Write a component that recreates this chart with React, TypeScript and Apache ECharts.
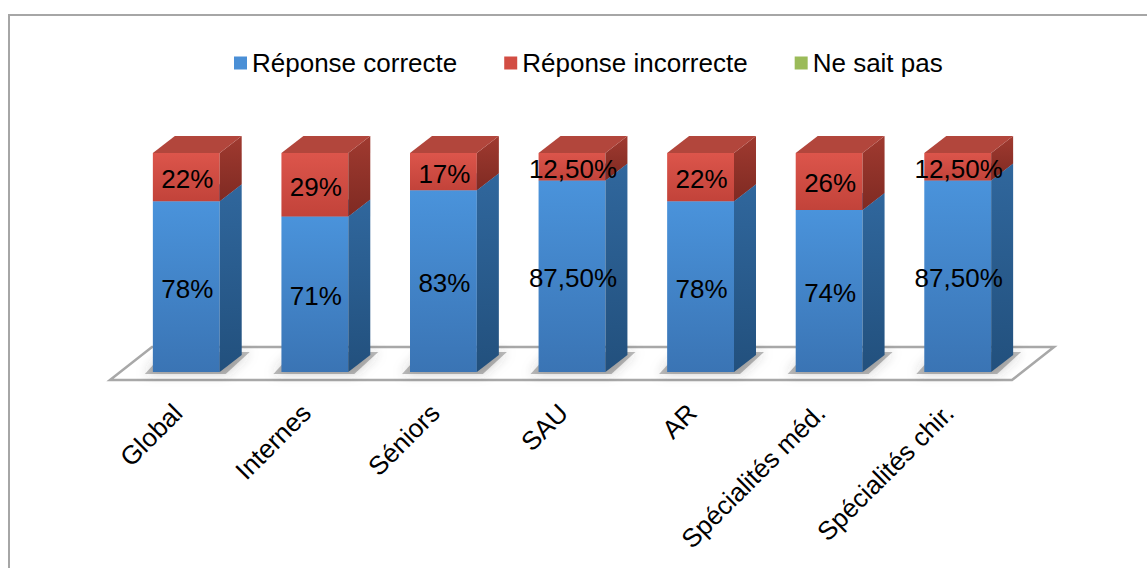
import React, { useEffect, useRef } from "react";
import * as echarts from "echarts";

const categories = ["Global", "Internes", "Séniors", "SAU", "AR", "Spécialités méd.", "Spécialités chir."];
const correct = [78, 71, 83, 87.5, 78, 74, 87.5];
const incorrect = [22, 29, 17, 12.5, 22, 26, 12.5];
const dontKnow = [0, 0, 0, 0, 0, 0, 0];
const seriesNames = ["Réponse correcte", "Réponse incorrecte", "Ne sait pas"];

const FONT = '"Liberation Sans", Arial, sans-serif';
const DX = 22;
const DY = 17;

const palettes = [
  {
    legend: "#4a8fd6",
    front: ["#4a93db", "#3a74b4"],
    side: ["#30679d", "#22507d"],
    top: "#3f7ec2",
  },
  {
    legend: "#d24d43",
    front: ["#dc554b", "#c2433a"],
    side: ["#a03a30", "#7f2a22"],
    top: "#b2463c",
  },
  {
    legend: "#9bbb59",
    front: ["#a6c763", "#8aa84c"],
    side: ["#70893b", "#5a7030"],
    top: "#8aa84c",
  },
];

function fmt(v: number): string {
  if (Number.isInteger(v)) return `${v}%`;
  return v.toFixed(2).replace(".", ",") + "%";
}

export default function App() {
  const ref = useRef<HTMLDivElement>(null);

  useEffect(() => {
    if (!ref.current) return;
    const chart = echarts.init(ref.current, undefined, { renderer: "svg" });

    const values = [correct, incorrect, dontKnow];
    const cum = categories.map(() => 0);
    const stackedData = values.map((arr) =>
      arr.map((v, i) => {
        const s = cum[i];
        cum[i] += v;
        return [i, s, s + v, v];
      })
    );

    const makeRender = (p: number) => (params: any, api: any) => {
      const idx = api.value(0);
      const s = api.value(1);
      const e = api.value(2);
      const v = api.value(3);
      if (!(e - s > 0)) return { type: "group", children: [] };
      const pb = api.coord([idx, s]);
      const pt = api.coord([idx, e]);
      const w = api.size([1, 0])[0] * 0.52;
      const x0 = pb[0] - w / 2;
      const x1 = pb[0] + w / 2;
      const yb = pb[1];
      const yt = pt[1];
      const pal = palettes[p];
      return {
        type: "group",
        children: [
          {
            type: "rect",
            shape: { x: x0, y: yt, width: w, height: yb - yt },
            style: {
              fill: new echarts.graphic.LinearGradient(0, 0, 0, 1, [
                { offset: 0, color: pal.front[0] },
                { offset: 1, color: pal.front[1] },
              ]),
            },
          },
          {
            type: "polygon",
            shape: {
              points: [
                [x1, yb],
                [x1 + DX, yb - DY],
                [x1 + DX, yt - DY],
                [x1, yt],
              ],
            },
            style: {
              fill: new echarts.graphic.LinearGradient(0, 0, 0, 1, [
                { offset: 0, color: pal.side[0] },
                { offset: 1, color: pal.side[1] },
              ]),
            },
          },
          {
            type: "polygon",
            shape: {
              points: [
                [x0, yt],
                [x1, yt],
                [x1 + DX, yt - DY],
                [x0 + DX, yt - DY],
              ],
            },
            style: { fill: pal.top },
          },
          {
            type: "text",
            x: pb[0] + 1,
            y: (yb + yt) / 2 + 2,
            style: {
              text: fmt(v),
              fill: "#000",
              fontSize: 26,
              fontFamily: FONT,
              align: "center",
              verticalAlign: "middle",
            },
          },
        ],
      };
    };

    const baseRender = (params: any, api: any) => {
      const idx = api.value(0);
      const band = api.size([1, 0])[0];
      const w = band * 0.52;
      const p = api.coord([idx, 0]);
      const x0 = p[0] - w / 2;
      const x1 = p[0] + w / 2;
      const yb = p[1];
      const children: any[] = [];
      if (idx === 0) {
        const gl = api.coord([0, 0])[0] - band / 2;
        const gr = api.coord([categories.length - 1, 0])[0] + band / 2;
        const fy = yb + 8;
        children.push({
          type: "polygon",
          shape: {
            points: [
              [gl - 12, fy],
              [gr - 10, fy],
              [gr - 10 + 42, fy - 33],
              [gl - 12 + 42, fy - 33],
            ],
          },
          style: { fill: "#ffffff", stroke: "#a8a8a8", lineWidth: 2.5 },
        });
      }
      children.push({
        type: "polygon",
        shape: {
          points: [
            [x0 - 8, yb + 2],
            [x1 + 6, yb + 2],
            [x1 + DX + 8, yb - DY - 3],
            [x0 + DX - 10, yb - DY - 3],
          ],
        },
        style: {
          fill: "rgba(60,60,60,0.35)",
          shadowBlur: 12,
          shadowColor: "rgba(60,60,60,0.7)",
        },
      });
      return { type: "group", children };
    };

    chart.setOption({
      animation: false,
      backgroundColor: "#ffffff",
      textStyle: { fontFamily: FONT },
      graphic: [
        {
          type: "rect",
          z: -10,
          shape: { x: 9, y: 15, width: 1300, height: 700 },
          style: { fill: "none", stroke: "#a6a6a6", lineWidth: 2 },
          silent: true,
        },
      ],
      legend: {
        data: seriesNames,
        left: 234,
        top: 50,
        padding: 0,
        icon: "rect",
        itemWidth: 13,
        itemHeight: 13,
        itemGap: 47,
        selectedMode: false,
        textStyle: { fontSize: 26, color: "#000", fontFamily: FONT },
      },
      grid: { left: 122, right: 125, top: 153, bottom: 196, containLabel: false },
      xAxis: {
        type: "category",
        data: categories,
        axisLine: { show: false },
        axisTick: { show: false },
        axisLabel: {
          interval: 0,
          rotate: 45,
          fontSize: 26,
          color: "#000",
          fontFamily: FONT,
          margin: 28,
          padding: [0, 12, 0, 0],
        },
      },
      yAxis: { type: "value", min: 0, max: 100, show: false },
      series: [
        {
          type: "custom",
          name: "base",
          z: 1,
          silent: true,
          renderItem: baseRender,
          encode: { x: 0, y: 1 },
          data: categories.map((_, i) => [i, 0]),
        },
        ...seriesNames.map((name, p) => ({
          type: "custom",
          name,
          z: 2,
          itemStyle: { color: palettes[p].legend },
          renderItem: makeRender(p),
          encode: { x: 0, y: [1, 2] },
          data: stackedData[p],
        })),
      ],
    });

    return () => chart.dispose();
  }, []);

  return (
    <div
      ref={ref}
      style={{ position: "fixed", left: 0, top: 0, width: 1147, height: 568, background: "#fff" }}
    />
  );
}
